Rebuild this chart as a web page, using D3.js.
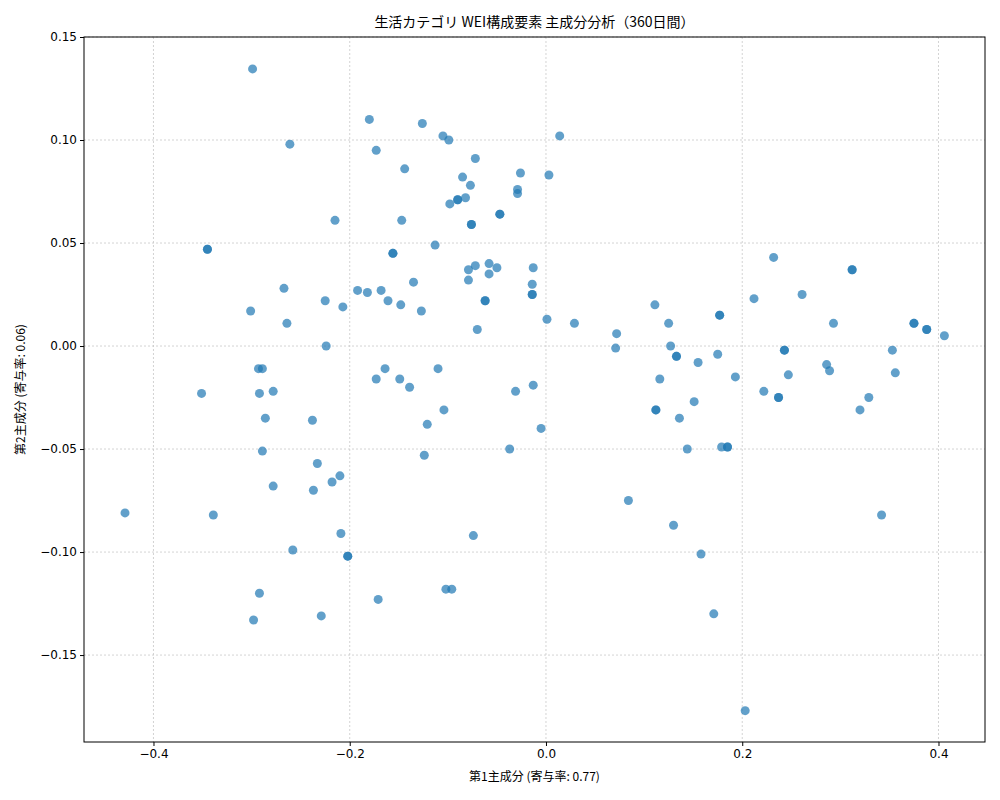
<!DOCTYPE html>
<html><head><meta charset="utf-8">
<script src="https://cdn.jsdelivr.net/npm/d3@7"></script>
<style>body{margin:0;background:#fff}text{font-family:"Noto Sans CJK JP","DejaVu Sans",sans-serif}</style>
</head><body><svg id="c" width="1000" height="800"></svg>
<script>
const pc1 = [-0.299,-0.261,-0.180,-0.126,-0.105,-0.099,-0.173,0.014,-0.072,-0.144,-0.085,0.003,-0.026,-0.077,-0.090,-0.082,-0.029,-0.029,-0.098,-0.047,-0.215,-0.147,-0.076,-0.345,-0.113,-0.156,-0.058,-0.072,-0.050,-0.058,-0.079,-0.013,-0.135,-0.079,-0.267,-0.192,-0.182,-0.168,-0.161,-0.148,-0.225,-0.207,-0.062,-0.301,-0.014,-0.127,-0.014,0.212,0.261,0.232,0.312,0.111,-0.264,0.001,0.029,0.293,0.375,0.388,0.406,0.072,0.125,-0.070,-0.224,0.071,0.127,0.353,0.243,0.133,0.175,-0.293,-0.289,-0.164,-0.110,0.155,0.286,0.289,0.247,-0.173,-0.149,-0.139,0.116,0.193,0.356,-0.351,-0.292,-0.278,-0.013,-0.031,0.222,0.237,0.329,0.151,-0.104,0.112,0.320,-0.286,-0.238,0.136,-0.121,-0.005,0.144,0.179,0.185,-0.289,-0.037,-0.124,-0.233,-0.210,-0.218,-0.278,-0.237,0.084,-0.429,-0.339,0.342,0.130,-0.209,-0.074,-0.258,-0.202,0.158,-0.292,-0.171,-0.102,-0.096,-0.229,-0.298,0.171,0.203,0.177,
-0.345,-0.156,-0.076,-0.047,-0.014,-0.062,0.312,0.177,0.375,0.388,0.243,0.237,0.112,0.133,0.185,-0.202,-0.090];
const pc2 = [0.1345,0.098,0.110,0.108,0.102,0.100,0.095,0.102,0.091,0.086,0.082,0.083,0.084,0.078,0.071,0.072,0.076,0.074,0.069,0.064,0.061,0.061,0.059,0.047,0.049,0.045,0.040,0.039,0.038,0.035,0.037,0.038,0.031,0.032,0.028,0.027,0.026,0.027,0.022,0.020,0.022,0.019,0.022,0.017,0.030,0.017,0.025,0.023,0.025,0.043,0.037,0.020,0.011,0.013,0.011,0.011,0.011,0.008,0.005,0.006,0.011,0.008,0.000,-0.001,0.000,-0.002,-0.002,-0.005,-0.004,-0.011,-0.011,-0.011,-0.011,-0.008,-0.009,-0.012,-0.014,-0.016,-0.016,-0.020,-0.016,-0.015,-0.013,-0.023,-0.023,-0.022,-0.019,-0.022,-0.022,-0.025,-0.025,-0.027,-0.031,-0.031,-0.031,-0.035,-0.036,-0.035,-0.038,-0.040,-0.050,-0.049,-0.049,-0.051,-0.050,-0.053,-0.057,-0.063,-0.066,-0.068,-0.070,-0.075,-0.081,-0.082,-0.082,-0.087,-0.091,-0.092,-0.099,-0.102,-0.101,-0.120,-0.123,-0.118,-0.118,-0.131,-0.133,-0.130,-0.177,0.015,
0.047,0.045,0.059,0.064,0.025,0.022,0.037,0.015,0.011,0.008,-0.002,-0.025,-0.031,-0.005,-0.049,-0.102,0.071];
const xTicks = [-0.4,-0.2,0.0,0.2,0.4];
const yTicks = [-0.15,-0.10,-0.05,0.00,0.05,0.10,0.15];
const title = "生活カテゴリ WEI構成要素 主成分分析（360日間）";
const xLabel = "第1主成分 (寄与率: 0.77)";
const yLabel = "第2主成分 (寄与率: 0.06)";

const svg = d3.select("#c");
const L=84,R=985,T=37,B=742;
const x = d3.scaleLinear().domain([-0.4708,0.4474]).range([L,R]);
const y = d3.scaleLinear().domain([-0.1922,0.15]).range([B,T]);
const g = svg.append("g");
g.selectAll(".gx").data(xTicks).join("line").attr("x1",d=>x(d)).attr("x2",d=>x(d)).attr("y1",T).attr("y2",B)
 .attr("stroke","#c8c8c8").attr("stroke-dasharray","2,2").attr("stroke-width",0.8);
g.selectAll(".gy").data(yTicks).join("line").attr("y1",d=>y(d)).attr("y2",d=>y(d)).attr("x1",L).attr("x2",R)
 .attr("stroke","#c8c8c8").attr("stroke-dasharray","2,2").attr("stroke-width",0.8);
svg.append("g").selectAll("circle").data(pc1.map((v,i)=>[v,pc2[i]])).join("circle")
 .attr("cx",d=>x(d[0])).attr("cy",d=>y(d[1])).attr("r",4.5).attr("fill","#1f77b4").attr("fill-opacity",0.7);
const fmt = d=> (d<0?"−":"")+Math.abs(d).toFixed(d%0.1===0&&Math.abs(d)>=0.2?1:1);
const ax = svg.append("g").attr("transform",`translate(0,${B})`).call(d3.axisBottom(x).tickValues(xTicks).tickSize(4).tickFormat(d=>(d<0?"−":"")+Math.abs(d).toFixed(1)));
const ay = svg.append("g").attr("transform",`translate(${L},0)`).call(d3.axisLeft(y).tickValues(yTicks).tickSize(4).tickFormat(d=>(d<0?"−":"")+Math.abs(d).toFixed(2)));
[ax,ay].forEach(a=>{a.select(".domain").remove();a.selectAll("text").attr("font-size",12).attr("fill","#000").style("font-family","'DejaVu Sans',sans-serif");a.selectAll("line").attr("stroke","#000");});
svg.append("rect").attr("x",L).attr("y",T).attr("width",R-L).attr("height",B-T).attr("fill","none").attr("stroke","#000").attr("stroke-width",1);
svg.append("text").attr("x",(L+R)/2).attr("y",27).attr("text-anchor","middle").attr("font-size",14).text(title);
svg.append("text").attr("x",(L+R)/2).attr("y",781).attr("text-anchor","middle").attr("font-size",12).text(xLabel);
svg.append("text").attr("transform",`translate(25,${(T+B)/2}) rotate(-90)`).attr("text-anchor","middle").attr("font-size",12).text(yLabel);
</script></body></html>
